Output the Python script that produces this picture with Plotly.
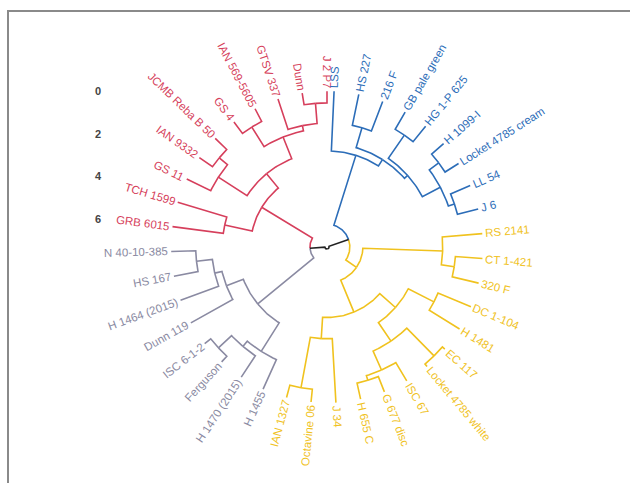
import numpy as np
import plotly.graph_objects as go

# Leaves in drawing order (counter-clockwise, starting at the top)
leaf_labels = [
    "J 2 P7", "Dunn", "GTSV 337", "IAN 569-5605", "GS 4", "JCMB Reba B 50",
    "IAN 9332", "GS 11", "TCH 1599", "GRB 6015",
    "N 40-10-385", "HS 167", "H 1464 (2015)", "Dunn 119", "ISC 6-1-2",
    "Ferguson", "H 1470 (2015)", "H 1455",
    "IAN 1327", "Octavine 06", "J 34", "H 655 C", "G 677 disc", "ISC 67",
    "Locket 4785 white", "EC 117", "H 1481", "DC 1-104", "320 F", "CT 1-421",
    "RS 2141",
    "J 6", "LL 54", "Locket 4785 cream", "H 1099-I", "HG 1-P 625",
    "GB pale green", "216 F", "HS 227", "LSS",
]
# cluster of each leaf: 0 red, 1 grey, 2 yellow, 3 blue
leaf_cluster = [0] * 10 + [1] * 8 + [2] * 13 + [3] * 9

# Agglomeration steps: children (leaf label or earlier step index) and height
merge_a = [
    # red group (steps 0-8)
    "J 2 P7", 0, "IAN 569-5605", 1, "JCMB Reba B 50", 4, 3, "TCH 1599", 6,
    # grey group (steps 9-15)
    "N 40-10-385", 9, 10, "ISC 6-1-2", 12, 13, 11,
    # yellow group (steps 16-27)
    "IAN 1327", 16, "H 655 C", 18, "Locket 4785 white", 19, "H 1481", 21, 17,
    "320 F", 25, 24,
    # blue group (steps 28-35)
    "J 6", "Locket 4785 cream", 28, "HG 1-P 625", 30, "216 F", 32, 34,
    # upper joins (steps 36-38)
    27, 8, 37,
]
merge_b = [
    "Dunn", "GTSV 337", "GS 4", 2, "IAN 9332", "GS 11", 5, "GRB 6015", 7,
    "HS 167", "H 1464 (2015)", "Dunn 119", "Ferguson", "H 1470 (2015)", "H 1455", 14,
    "Octavine 06", "J 34", "G 677 disc", "ISC 67", "EC 117", 20, "DC 1-104", 22, 23,
    "CT 1-421", "RS 2141", 26,
    "LL 54", "H 1099-I", 29, "GB pale green", 31, "HS 227", 33, "LSS",
    35, 15, 36,
]
merge_h = [
    0.55, 1.5, 0.67, 1.75, 0.75, 1.25, 2.85, 2.4, 3.72,
    1.15, 1.9, 2.25, 0.36, 1.2, 1.52, 3.1,
    0.6, 3.0, 0.77, 1.0, 0.15, 1.97, 1.67, 3.02, 4.0, 1.27, 1.88, 5.62,
    1.0, 0.75, 1.3, 0.93, 2.25, 1.48, 2.45, 2.8,
    6.23, 6.5, 7.2,
]

# height scale labels
scale_ticks = [0, 2, 4, 6]

cluster_colors = ["#d63f5c", "#8a8aa2", "#f0c21e", "#2c6db8"]
trunk_color = "#222222"

# ---- layout constants ----
R0 = 7.3            # radius of leaf tips (height 0)
start_deg = 90.0    # angle of the first leaf
arc_span = 357.4    # angular extent covered by the leaves
PX = 21.35          # pixels per height unit
W, H = 630, 483
CX, CY = 327, 247   # centre of the fan in page pixels
FRAME_L, FRAME_T = 9, 12
FONT = "Liberation Sans, Arial, sans-serif"
FSIZE = 11.5

# ---- tree geometry ----
n = len(leaf_labels)
step = arc_span / (n - 1)
angle, height, members = {}, {}, {}
for i, lab in enumerate(leaf_labels):
    angle[lab] = start_deg + i * step
    height[lab] = 0.0
    members[lab] = {i}
for m, (a, b, h) in enumerate(zip(merge_a, merge_b, merge_h)):
    angle[m] = (angle[a] + angle[b]) / 2.0
    height[m] = h
    members[m] = members[a] | members[b]


def node_color(node):
    cl = {leaf_cluster[i] for i in members[node]}
    return cluster_colors[cl.pop()] if len(cl) == 1 else trunk_color


def polar(r, deg):
    t = np.radians(deg)
    return r * np.cos(t), r * np.sin(t)


paths = {}
for m, (a, b, h) in enumerate(zip(merge_a, merge_b, merge_h)):
    r_m = R0 - h
    for c in (a, b):
        col = node_color(c)
        npts = max(2, int(abs(angle[c] - angle[m])) + 2)
        th = np.linspace(angle[m], angle[c], npts)
        xs, ys = polar(r_m, th)
        xe, ye = polar(R0 - height[c], angle[c])
        px, py = paths.setdefault(col, ([], []))
        px.extend(list(xs) + [xe, None])
        py.extend(list(ys) + [ye, None])

fig = go.Figure()
for col in cluster_colors + [trunk_color]:
    if col in paths:
        fig.add_trace(go.Scatter(
            x=paths[col][0], y=paths[col][1], mode="lines",
            line=dict(color=col, width=1.6), hoverinfo="skip",
            showlegend=False))

# invisible anchor trace for the height scale axis
fig.add_trace(go.Scatter(x=[0], y=[R0], yaxis="y2", mode="markers",
                         marker=dict(size=1, opacity=0), hoverinfo="skip",
                         showlegend=False))

# ---- leaf labels ----
char_w = {}
for ch in "0123456789":
    char_w[ch] = 0.556
char_w.update({" ": 0.278, "-": 0.333, "(": 0.333, ")": 0.333, ".": 0.278})
upper = dict(A=.667, B=.667, C=.722, D=.722, E=.667, F=.611, G=.778, H=.722,
             I=.278, J=.5, K=.667, L=.556, M=.833, N=.722, O=.778, P=.667,
             Q=.778, R=.722, S=.667, T=.611, U=.722, V=.667, W=.944, X=.667,
             Y=.667, Z=.611)
lower = dict(a=.556, b=.556, c=.5, d=.556, e=.556, f=.278, g=.556, h=.556,
             i=.222, j=.222, k=.5, l=.222, m=.833, n=.556, o=.556, p=.556,
             q=.556, r=.333, s=.5, t=.278, u=.556, v=.5, w=.722, x=.5, y=.5,
             z=.5)
char_w.update(upper)
char_w.update(lower)


def text_width(s):
    return FSIZE * sum(char_w.get(ch, 0.55) for ch in s)


annotations = []
gap = 3.0
for i, lab in enumerate(leaf_labels):
    th = angle[lab] % 360.0
    w = text_width(lab)
    rc = R0 + (gap + w / 2.0) / PX
    x, y = polar(rc, th)
    if 90.0 <= th < 270.0:
        ta = 180.0 - th
    else:
        ta = -th if th <= 90.0 else 360.0 - th
    annotations.append(dict(
        x=x, y=y, xref="x", yref="y", text=lab, showarrow=False,
        textangle=ta, xanchor="center", yanchor="middle",
        font=dict(family=FONT, size=FSIZE,
                  color=cluster_colors[leaf_cluster[i]])))

x_range = [(FRAME_L - CX) / PX, (W - CX) / PX]
y_range = [(CY - H) / PX, (CY - FRAME_T) / PX]
axis_pos = (101 - FRAME_L) / (W - FRAME_L)

fig.update_layout(
    template="none",
    width=W, height=H,
    margin=dict(l=FRAME_L, r=0, t=FRAME_T, b=0, pad=0),
    paper_bgcolor="white", plot_bgcolor="white",
    showlegend=False,
    annotations=annotations,
    xaxis=dict(range=x_range, side="top", showline=True, linecolor="#8a8a8a",
               linewidth=2, showgrid=False, zeroline=False, ticks="",
               showticklabels=False, automargin=False, fixedrange=True),
    yaxis=dict(range=y_range, side="left", showline=True, linecolor="#8a8a8a",
               linewidth=2, showgrid=False, zeroline=False, ticks="",
               showticklabels=False, automargin=False, fixedrange=True),
    yaxis2=dict(range=y_range, overlaying="y", anchor="free",
                position=axis_pos, side="left", showline=False,
                showgrid=False, zeroline=False, ticks="",
                tickvals=[R0 - t for t in scale_ticks],
                ticktext=["<b>%d</b>" % t for t in scale_ticks],
                tickfont=dict(family=FONT, size=11, color="#444444"),
                automargin=False, fixedrange=True),
)

fig.write_html("out.html")
